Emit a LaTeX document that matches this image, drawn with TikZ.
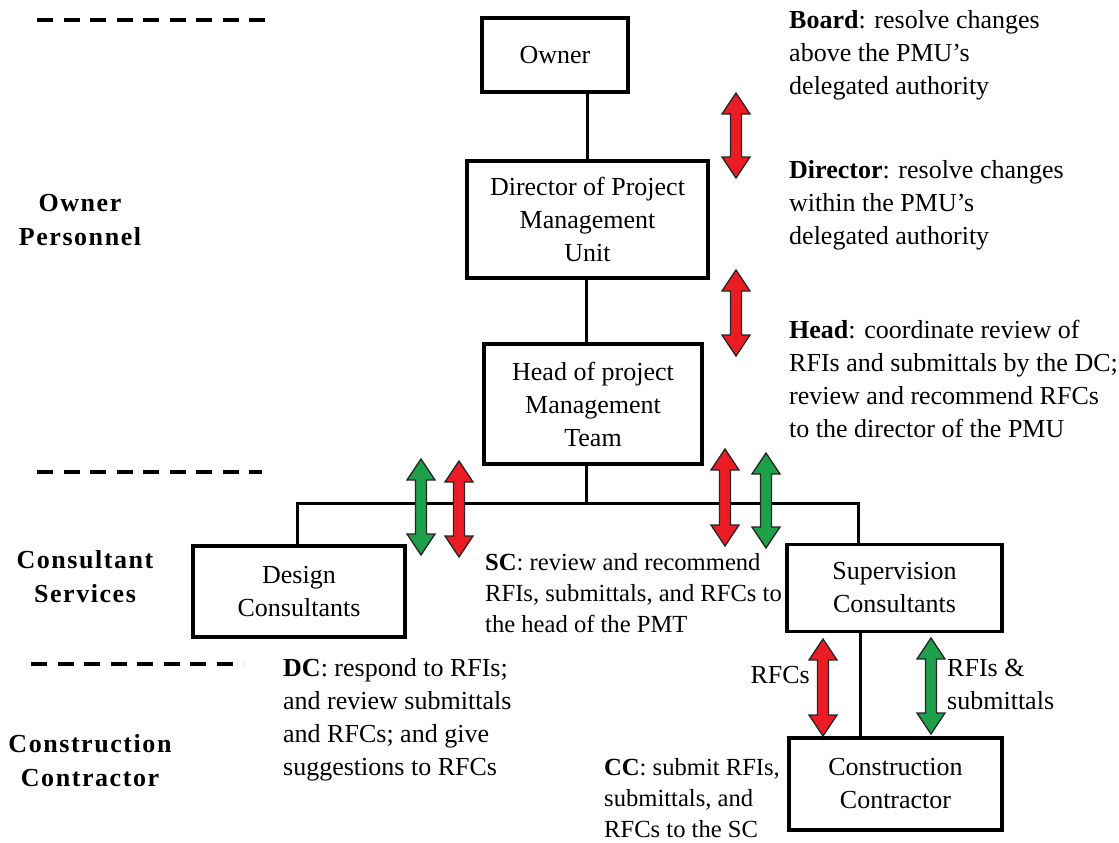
\documentclass[tikz,border=0pt]{standalone}
\usepackage{fontspec}
\setmainfont{Liberation Serif}
\newfontfamily\spacedfont[LetterSpace=6]{Liberation Serif}
\usetikzlibrary{calc}
\definecolor{arrred}{RGB}{236,28,36}
\definecolor{arrgreen}{RGB}{30,160,75}

% vertical two-headed block arrow: x, top y, bottom y, fill colour
\newcommand\blockarrow[4]{%
  \filldraw[fill=#4, draw=black!85, line width=1.3pt, line join=miter]
    (#1,#2) -- (#1+14,#2+21) -- (#1+5.5,#2+21) -- (#1+5.5,#3-21) -- (#1+14,#3-21)
    -- (#1,#3) -- (#1-14,#3-21) -- (#1-5.5,#3-21) -- (#1-5.5,#2+21) -- (#1-14,#2+21) -- cycle;}

\begin{document}
\begin{tikzpicture}[x=1pt, y=-1pt,
  every node/.style={font=\fontsize{26}{33}\selectfont, inner sep=0pt},
  unitbox/.style={draw, line width=3.5pt, align=center},
  note/.style={anchor=north west, align=left},
  tightnote/.style={note, font=\fontsize{24.6}{31.2}\selectfont},
  level/.style={align=center, font=\fontsize{26}{34}\selectfont\spacedfont\bfseries},
  link/.style={line width=3pt},
  divider/.style={line width=4pt, dash pattern=on 16pt off 10.5pt}]
\useasboundingbox (0,0) rectangle (1119,843);

% level dividers and level names
\draw[divider] (37,20) -- (265,20);
\draw[divider] (37,472) -- (262,472);
\draw[divider] (31,664) -- (243,664);
\node[level] (lvlowner) at (80,220) {Owner\\Personnel};
\node[level] (lvlcons) at (85,577) {Consultant\\Services};
\node[level] (lvlcc) at (90,761) {Construction\\Contractor};

% organisation units
\node[unitbox, minimum width=146pt, minimum height=74pt] (owner) at (555,55) {Owner};
\node[unitbox, minimum width=241pt, minimum height=117pt] (director) at (587.5,219.5)
  {Director of Project\\Management\\Unit};
\node[unitbox, minimum width=218pt, minimum height=120pt] (head) at (593,404)
  {Head of project\\Management\\Team};
\node[unitbox, minimum width=212pt, minimum height=91pt] (design) at (299,591.5)
  {Design\\Consultants};
\node[unitbox, minimum width=215pt, minimum height=87pt] (super) at (894.5,588)
  {Supervision\\Consultants};
\node[unitbox, minimum width=213pt, minimum height=92pt] (contractor) at (895.5,784)
  {Construction\\Contractor};

% reporting lines
\coordinate (busM) at (586,503);
\coordinate (busL) at (297,503);
\coordinate (busR) at (858,503);
\coordinate (ccline) at (860,700);
\draw[link] (director.north) -- (director.north |- owner.south);
\draw[link] (director.south -| busM) -- (busM |- head.north);
\draw[link] (head.south -| busM) -- (busM);
\draw[link] (busL |- design.north) -- (busL) -- (busR) -- (busR |- super.north);
\draw[link] (ccline |- super.south) -- (ccline |- contractor.north);

% information flows
\blockarrow{736}{93}{178}{arrred}
\blockarrow{736}{270}{356}{arrred}
\blockarrow{421}{459}{555}{arrgreen}
\blockarrow{459}{461}{557}{arrred}
\blockarrow{725}{449}{546}{arrred}
\blockarrow{766}{453}{548}{arrgreen}
\blockarrow{823}{639}{736}{arrred}
\blockarrow{931}{638}{734}{arrgreen}

% responsibilities
\node[note] (board) at (789,10) {\textbf{Board}: resolve changes\\above the PMU’s\\delegated authority};
\node[note] (dir) at (789,160) {\textbf{Director}: resolve changes\\within the PMU’s\\delegated authority};
\node[note] (hd) at (789,320) {\textbf{Head}: coordinate review of\\RFIs and submittals by the DC;\\review and recommend RFCs\\to the director of the PMU};
\node[tightnote] (sc) at (485,553) {\textbf{SC}: review and recommend\\RFIs, submittals, and RFCs to\\the head of the PMT};
\node[note] (dc) at (283,658) {\textbf{DC}: respond to RFIs;\\and review submittals\\and RFCs; and give\\suggestions to RFCs};
\node[tightnote] (cc) at (604,758) {\textbf{CC}: submit RFIs,\\submittals, and\\RFCs to the SC};
\node[anchor=base east] (rfcs) at (810,683) {RFCs};
\node[note] (rfis) at (947,659) {RFIs \&\\submittals};
\end{tikzpicture}
\end{document}
